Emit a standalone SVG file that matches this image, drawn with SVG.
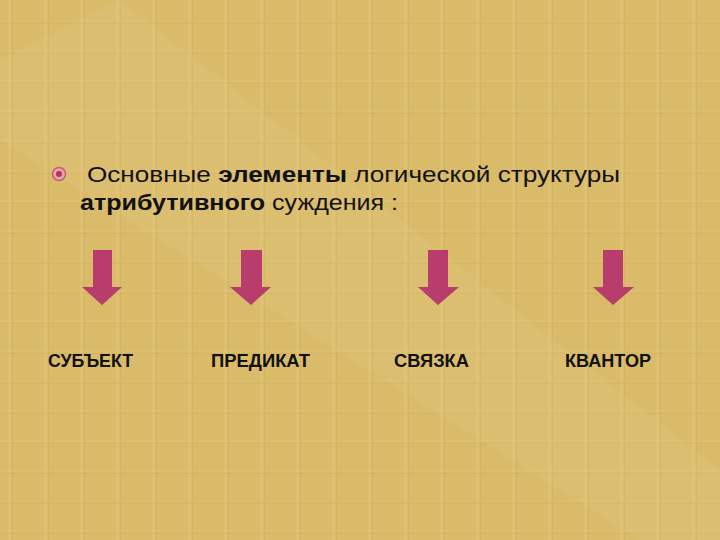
<svg xmlns="http://www.w3.org/2000/svg" width="720" height="540" viewBox="0 0 720 540">
<defs>
<pattern id="weave" width="36" height="30" patternUnits="userSpaceOnUse">
<rect width="36" height="30" fill="#d9bb69"/>
<rect x="8" y="0" width="3" height="30" fill="#e2c67a" opacity="0.5"/>
<rect x="12" y="0" width="1" height="30" fill="#c9a756" opacity="0.35"/>
<rect x="0" y="20" width="36" height="2" fill="#e0c47a" opacity="0.35"/>
<rect x="0" y="23" width="36" height="1" fill="#c8a552" opacity="0.25"/>
</pattern>
<style>
.main{font-family:"Liberation Sans","DejaVu Sans",sans-serif;font-size:22px;fill:#111;}
.b{font-weight:bold;}
.lbl{font-family:"Liberation Sans","DejaVu Sans",sans-serif;font-size:18px;font-weight:bold;fill:#111;}
.arrow{fill:#b83c6c;}
</style>
</defs>
<rect width="720" height="540" fill="url(#weave)"/>
<polygon points="0,60 120,0 720,470 720,540 640,540 0,140" fill="#ecd69a" opacity="0.12"/>
<g id="title">
<circle cx="59" cy="174" r="6.5" fill="#e9a6a6" stroke="#c8607a" stroke-width="1.5"/>
<circle cx="59" cy="174" r="3" fill="#b8305c"/>
<text class="main" x="87" y="182" textLength="533" lengthAdjust="spacingAndGlyphs">Основные  <tspan class="b">элементы</tspan> логической структуры</text>
<text class="main" x="80" y="210" textLength="318" lengthAdjust="spacingAndGlyphs"><tspan class="b">атрибутивного</tspan> суждения :</text>
</g>
<g id="connectors">
<polygon class="arrow" points="93,250 112,250 112,287 122,287 102,305 82,287 93,287"/>
<polygon class="arrow" points="241,250 262,250 262,287 271,287 251,305 230,287 241,287"/>
<polygon class="arrow" points="428,250 448,250 448,287 459,287 438,305 418,287 428,287"/>
<polygon class="arrow" points="603,250 623,250 623,287 634,287 613,305 593,287 603,287"/>
</g>
<g id="subject"><text class="lbl" x="48" y="367" textLength="85" lengthAdjust="spacingAndGlyphs">СУБЪЕКТ</text></g>
<g id="predicate"><text class="lbl" x="211" y="367" textLength="99" lengthAdjust="spacingAndGlyphs">ПРЕДИКАТ</text></g>
<g id="copula"><text class="lbl" x="394" y="367" textLength="75" lengthAdjust="spacingAndGlyphs">СВЯЗКА</text></g>
<g id="quantifier"><text class="lbl" x="565" y="367" textLength="86" lengthAdjust="spacingAndGlyphs">КВАНТОР</text></g>
</svg>
